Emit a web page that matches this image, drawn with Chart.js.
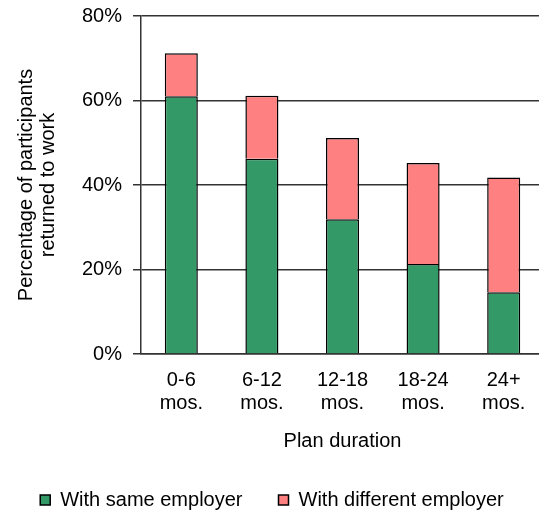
<!DOCTYPE html>
<html>
<head>
<meta charset="utf-8">
<script src="https://cdn.jsdelivr.net/npm/chart.js@4/dist/chart.umd.min.js"></script>
<style>
  html, body { margin: 0; padding: 0; background: #fff; overflow: hidden; }
  #wrap { position: absolute; left: 0; top: 0; width: 545px; height: 520px; }
</style>
</head>
<body>
<div id="wrap"><canvas id="chart" width="545" height="520"></canvas></div>
<script>
// Plan duration categories (two-line tick labels)
const categories = [["0-6", "mos."], ["6-12", "mos."], ["12-18", "mos."], ["18-24", "mos."], ["24+", "mos."]];
// Share of participants back at work, in percent
const sameEmployer = [61.0, 46.2, 31.9, 21.3, 14.6];
const differentEmployer = [10.2, 14.9, 19.2, 23.9, 27.2];
const seriesNames = ["With same employer", "With different employer"];
const yTicks = [0, 20, 40, 60, 80];

Chart.defaults.font.family = '"Liberation Sans", Arial, sans-serif';
Chart.defaults.font.size = 20;
Chart.defaults.color = '#000';

const lineColor = '#333333';

new Chart(document.getElementById('chart'), {
  type: 'bar',
  data: {
    labels: categories,
    datasets: [
      {
        label: seriesNames[0],
        data: sameEmployer,
        backgroundColor: '#339966',
        borderColor: '#000',
        borderWidth: 1.5,
        barPercentage: 0.41,
        categoryPercentage: 1
      },
      {
        label: seriesNames[1],
        data: differentEmployer,
        backgroundColor: '#ff8080',
        borderColor: '#000',
        borderWidth: 1.5,
        barPercentage: 0.41,
        categoryPercentage: 1
      }
    ]
  },
  options: {
    responsive: false,
    animation: false,
    layout: { padding: { top: 16, right: 1, left: 0, bottom: 0 } },
    plugins: {
      tooltip: { enabled: false },
      legend: {
        position: 'bottom',
        labels: {
          boxWidth: 10,
          boxHeight: 10,
          padding: 36,
          font: { size: 20 }
        }
      }
    },
    scales: {
      x: {
        stacked: true,
        grid: { display: false, drawTicks: false },
        border: { display: true, color: lineColor, width: 1.5 },
        ticks: { padding: 15, font: { size: 20, lineHeight: 1.15 }, maxRotation: 0 },
        title: {
          display: true,
          text: 'Plan duration',
          font: { size: 20, lineHeight: 1.2 },
          padding: { top: 0, bottom: 1 }
        },
        afterFit(scale) { scale.height = 100; }
      },
      y: {
        stacked: true,
        min: 0,
        max: 80,
        afterBuildTicks(scale) { scale.ticks = yTicks.map(v => ({ value: v })); },
        ticks: {
          padding: 11,
          font: { size: 20 },
          callback: v => v + '%'
        },
        grid: { color: lineColor, lineWidth: 1.5, tickLength: 8, drawTicks: true },
        border: { display: true, color: lineColor, width: 1.5 },
        title: {
          display: true,
          text: ['Percentage of participants', 'returned to work'],
          font: { size: 20, lineHeight: 1.1 },
          padding: { top: 15, bottom: 0 }
        },
        afterFit(scale) {
          scale.width = 141;
          scale.paddingTop = 0;
          scale.paddingBottom = 0;
        }
      }
    }
  }
});
</script>
</body>
</html>
